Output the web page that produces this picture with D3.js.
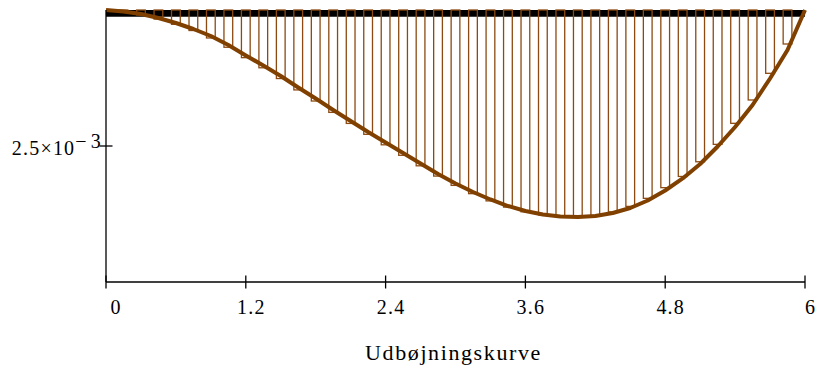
<!DOCTYPE html>
<html>
<head>
<meta charset="utf-8">
<script src="https://cdn.jsdelivr.net/npm/d3@7/dist/d3.min.js"></script>
<style>
  html, body { margin: 0; padding: 0; background: #fff; }
  svg { display: block; }
  text { font-family: "Liberation Serif", "Times New Roman", serif; fill: #000; }
</style>
</head>
<body>
<svg id="chart" width="818" height="367"></svg>
<script>
// Beam positions along the span (m)
const positions = [0, 0.15, 0.3, 0.45, 0.6, 0.75, 0.9, 1.05, 1.2, 1.35,
  1.5, 1.65, 1.8, 1.95, 2.1, 2.25, 2.4, 2.55, 2.7, 2.85,
  3.0, 3.15, 3.3, 3.45, 3.6, 3.75, 3.9, 4.05, 4.2, 4.35,
  4.5, 4.65, 4.8, 4.95, 5.1, 5.25, 5.4, 5.55, 5.7, 5.85, 6.0];

// Deflection curve (m)
const deflection = [0, 0.000028, 0.000074, 0.000147, 0.000239, 0.000349, 0.000478, 0.000643, 0.000836, 0.00102,
  0.001213, 0.001425, 0.001627, 0.001838, 0.00204, 0.002243, 0.002436, 0.002629, 0.002822, 0.003015,
  0.003189, 0.003346, 0.003483, 0.003603, 0.003695, 0.003759, 0.003796, 0.003805, 0.003787, 0.003732,
  0.00364, 0.003502, 0.003318, 0.003097, 0.002831, 0.002509, 0.002151, 0.001746, 0.001259, 0.000735, 0];

// Deflection shown as bars at each section
const barDeflection = [0, 0.000038, 0.00009, 0.000167, 0.000263, 0.000377, 0.000514, 0.000685, 0.000876, 0.001062,
  0.00126, 0.001469, 0.001673, 0.001882, 0.002085, 0.002285, 0.002478, 0.002671, 0.002864, 0.003053,
  0.003224, 0.003376, 0.003509, 0.003623, 0.003709, 0.003767, 0.003798, 0.003801, 0.003775, 0.003712,
  0.00361, 0.003462, 0.003266, 0.00306, 0.00279, 0.00247, 0.002083, 0.001654, 0.001164, 0.000625, 0];

const xTicks = [0, 1.2, 2.4, 3.6, 4.8, 6];
const xTickLabels = ["0", "1.2", "2.4", "3.6", "4.8", "6"];
const yTick = 0.0025;
const axisTitle = "Udbøjningskurve";

const brown = "#804000";
const svg = d3.select("#chart");

const x = d3.scaleLinear().domain([0, 6]).range([106, 805]);
const y = d3.scaleLinear().domain([0, 0.005]).range([10, 282]);

// Beam line at zero deflection
svg.append("line")
  .attr("x1", x(0)).attr("x2", x(6))
  .attr("y1", y(0) + 3.3).attr("y2", y(0) + 3.3)
  .attr("stroke", "#000").attr("stroke-width", 6.7);

// Outlined bars from zero down to the deflection
const barW = 0.075;
svg.append("g")
  .selectAll("rect")
  .data(positions.map((p, i) => ({ p, v: barDeflection[i] })))
  .join("rect")
  .attr("x", d => x(d.p - barW / 2))
  .attr("width", x(barW) - x(0))
  .attr("y", y(0))
  .attr("height", d => y(d.v) - y(0))
  .attr("fill", "none")
  .attr("stroke", "#8c4a12")
  .attr("stroke-width", 1.3);

// Deflection curve
const line = d3.line()
  .x((d, i) => x(positions[i]))
  .y(d => y(d));
svg.append("path")
  .datum(deflection)
  .attr("d", line)
  .attr("fill", "none")
  .attr("stroke", brown)
  .attr("stroke-width", 4)
  .attr("stroke-linejoin", "round");

// Axes
const axisG = svg.append("g").attr("stroke", "#000").attr("stroke-width", 1.3);
axisG.append("line")
  .attr("x1", x(0)).attr("x2", x(0))
  .attr("y1", y(0)).attr("y2", y(0.005));
axisG.append("line")
  .attr("x1", x(0)).attr("x2", x(6))
  .attr("y1", y(0.005)).attr("y2", y(0.005));
axisG.selectAll(".xt")
  .data(xTicks)
  .join("line")
  .attr("x1", d => x(d)).attr("x2", d => x(d))
  .attr("y1", y(0.005) - 6.5).attr("y2", y(0.005) + 6.5);
axisG.append("line")
  .attr("x1", x(0) - 6.5).attr("x2", x(0) + 6.5)
  .attr("y1", y(yTick)).attr("y2", y(yTick));

// Tick labels
svg.append("g")
  .selectAll("text")
  .data(xTicks)
  .join("text")
  .attr("x", (d, i) => x(d) + (i === 0 ? 10 : 5.5))
  .attr("y", y(0.005) + 32)
  .attr("text-anchor", "middle")
  .attr("font-size", 20)
  .attr("letter-spacing", 1.2)
  .text((d, i) => xTickLabels[i]);

const yLab = svg.append("text")
  .attr("x", x(0) - 4)
  .attr("y", y(yTick) + 9)
  .attr("text-anchor", "end")
  .attr("font-size", 20)
  .attr("letter-spacing", 1.2);
yLab.append("tspan").text("2.5×10");
yLab.append("tspan").attr("dy", -7).text("−");
yLab.append("tspan").attr("dx", 3).text("3");

// Axis title
svg.append("text")
  .attr("x", (x(0) + x(6)) / 2 - 2)
  .attr("y", 360)
  .attr("text-anchor", "middle")
  .attr("font-size", 22)
  .attr("letter-spacing", 1.6)
  .text(axisTitle);
</script>
</body>
</html>
